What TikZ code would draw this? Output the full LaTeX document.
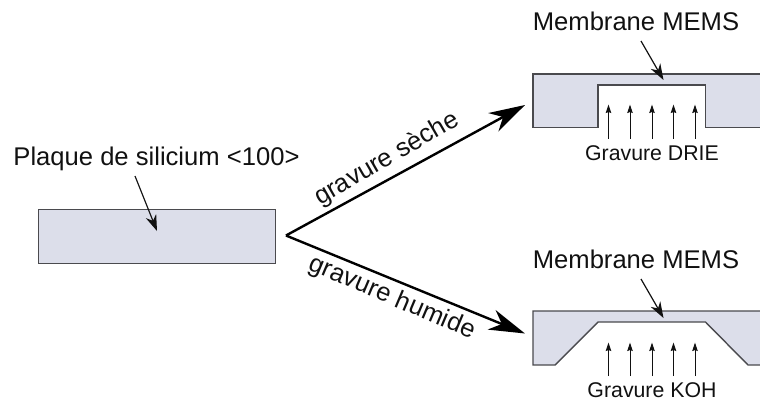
\documentclass[tikz,border=0pt]{standalone}
\usepackage{fontspec}
\setmainfont{Liberation Sans}
\usetikzlibrary{arrows.meta}
\definecolor{siface}{HTML}{DCDEEA}
\definecolor{siedge}{HTML}{4A4A4E}
\definecolor{txt}{HTML}{111111}
\tikzset{
  wafer/.style={draw=siedge,fill=siface,line width=1.4pt,line join=miter},
  biglab/.style={font=\fontsize{25.6pt}{28pt}\selectfont,text=txt,inner sep=0pt,anchor=base},
  smalllab/.style={font=\fontsize{21.3pt}{24pt}\selectfont,text=txt,inner sep=0pt,anchor=base},
  bigarrow/.style={draw=black,line width=2.4pt,-{Stealth[length=36pt,width=21pt,inset=11pt]}},
  pointer/.style={draw=txt,line width=1.2pt,-{Stealth[length=16pt,width=11pt,inset=5pt]}},
  etch/.style={draw=txt,line width=1pt,-{Stealth[length=8.5pt,width=5.5pt,inset=1pt]}}
}
\begin{document}
\begin{tikzpicture}[x=1pt,y=-1pt]
\useasboundingbox (0,0) rectangle (760,400);
% wafer
\node[wafer,inner sep=0pt,anchor=north west,minimum width=237pt,minimum height=53.5pt] (plate) at (38,209) {};
\node[biglab] (plabel) at (156.5,165) {Plaque de silicium <100>};
\coordinate (ps) at (135,176);
\coordinate (pe) at (157,231);
\draw[pointer] (ps) -- (pe);
% main arrows
\coordinate (fork) at (286,235.5);
\coordinate (t1) at (525,105);
\coordinate (t2) at (525,333.5);
\draw[bigarrow] (fork) -- (t1);
\draw[bigarrow] (fork) -- (t2);
\node[biglab,rotate=30,anchor=center] (lab1) at (387,159) {gravure sèche};
\node[biglab,rotate=-23,anchor=center] (lab2) at (392,298) {gravure humide};
% top device
\draw[wafer] (770,74) -- (533,74) -- (533,127.5) -- (598,127.5) -- (598,85) -- (705.5,85) -- (705.5,127.5) -- (770,127.5);
\node[biglab] (m1) at (636,30) {Membrane MEMS};
\coordinate (m1s) at (641,41);
\coordinate (m1e) at (663.5,80);
\draw[pointer] (m1s) -- (m1e);
\foreach \i/\x in {1/608.5,2/630,3/652,4/673.5,5/695}{
  \coordinate (a\i) at (\x,138.5);
  \coordinate (b\i) at (\x,104.5);
  \draw[etch] (a\i) -- (b\i);
}
\node[smalllab] (g1) at (652,160) {Gravure DRIE};
% bottom device
\draw[wafer] (770,365) -- (748,365) -- (705.5,322) -- (598,322) -- (555,365) -- (533,365) -- (533,311) -- (770,311);
\node[biglab] (m2) at (636,268) {Membrane MEMS};
\coordinate (m2s) at (641,279);
\coordinate (m2e) at (663.5,318);
\draw[pointer] (m2s) -- (m2e);
\foreach \i/\x in {1/608.5,2/630,3/652,4/673.5,5/695}{
  \coordinate (c\i) at (\x,376);
  \coordinate (d\i) at (\x,342.5);
  \draw[etch] (c\i) -- (d\i);
}
\node[smalllab] (g2) at (652,397) {Gravure KOH};
\end{tikzpicture}
\end{document}
